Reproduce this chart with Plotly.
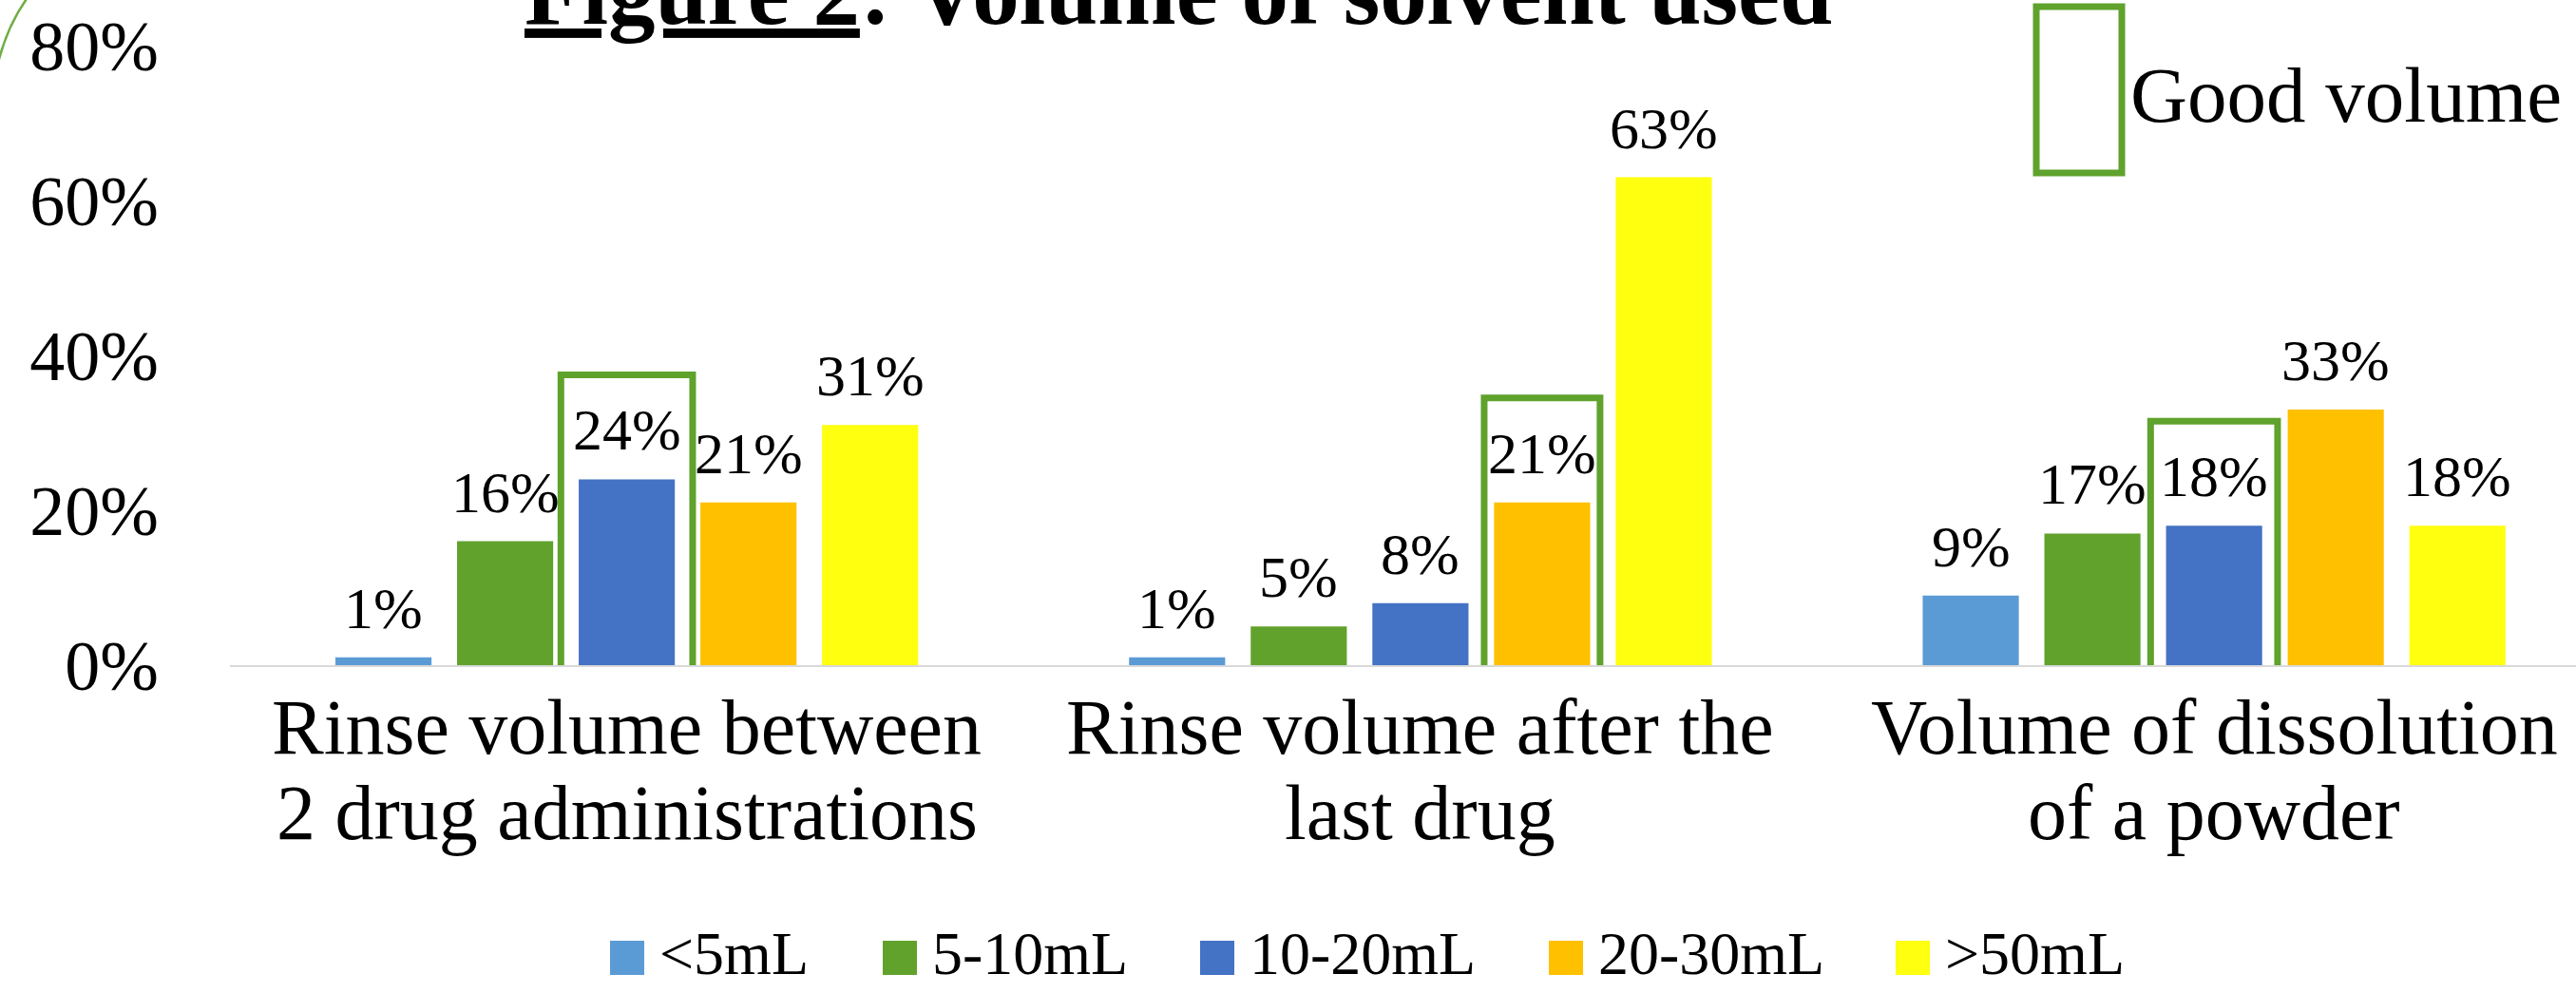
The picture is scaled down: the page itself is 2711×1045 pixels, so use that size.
import plotly.graph_objects as go

# data
categories = ["Rinse volume between<br>2 drug administrations",
              "Rinse volume after the<br>last drug",
              "Volume of dissolution<br>of a powder"]
series_names = ["<5mL", "5-10mL", "10-20mL", "20-30mL", ">50mL"]
lt5 = [0.01, 0.01, 0.09]
v5_10 = [0.16, 0.05, 0.17]
v10_20 = [0.24, 0.08, 0.18]
v20_30 = [0.21, 0.21, 0.33]
gt50 = [0.31, 0.63, 0.18]
y_ticks = [0, 0.2, 0.4, 0.6, 0.8]
# (category index, series index) of the "good volume" bars
good_volume = [(0, 2), (1, 3), (2, 2)]

series_values = [lt5, v5_10, v10_20, v20_30, gt50]
colors = ["#5B9BD5", "#61A22D", "#4472C4", "#FFC000", "#FFFF10"]
GREEN = "#5FA22C"
FONT = "Liberation Serif"

W, H = 2711, 1045
L, R, T, B = 242, 0, 48, 345
PW, PH = W - L - R, H - T - B
BARGAP = 0.2335
X_RANGE = [-0.5, 2.456]
# the hand-drawn boxes are not all the same width
BOX_HALF = [0.083, 0.073, 0.08]


def px_x(px):
    return (px - L) / PW


def px_y(py):
    return (H - B - py) / PH


fig = go.Figure()
for name, vals, col in zip(series_names, series_values, colors):
    fig.add_trace(go.Bar(
        x=list(range(len(categories))),
        y=vals,
        name=name,
        marker={"color": col, "line": {"width": 0}},
        showlegend=False,
    ))

n = len(series_names)
slot = (1 - BARGAP) / n
cat_px = PW / (X_RANGE[1] - X_RANGE[0])

# value labels above the bars (annotations so the gap can match the original)
for si, vals in enumerate(series_values):
    for ci, v in enumerate(vals):
        fig.add_annotation(xref="x", yref="y", x=ci, y=v,
                           xshift=(si - (n - 1) / 2) * slot * cat_px, yshift=16,
                           xanchor="center", yanchor="bottom", showarrow=False,
                           text=f"{v:.0%}",
                           font={"family": FONT, "size": 62, "color": "#000000"})

# green boxes around the good volume bars
for (ci, si), hw in zip(good_volume, BOX_HALF):
    xc = ci + (si - (n - 1) / 2) * slot
    fig.add_shape(type="rect", xref="x", yref="y",
                  x0=xc - hw, x1=xc + hw,
                  y0=-0.029, y1=series_values[si][ci] + 0.135,
                  line={"color": GREEN, "width": 7})

# category names, one annotation per line for tighter line spacing
for i, cat in enumerate(categories):
    for k, line in enumerate(cat.split("<br>")):
        fig.add_annotation(xref="x", yref="paper", x=i, y=px_y(765 + 90 * k),
                           xanchor="center", yanchor="middle", showarrow=False,
                           text=line,
                           font={"family": FONT, "size": 82, "color": "#000000"})

# "Good volume" key, top right
fig.add_shape(type="rect", xref="paper", yref="paper",
              x0=px_x(2143), x1=px_x(2233), y0=px_y(182), y1=px_y(7),
              line={"color": GREEN, "width": 7})
fig.add_annotation(xref="paper", yref="paper", x=px_x(2240), y=px_y(100),
                   xanchor="left", yanchor="middle", showarrow=False,
                   text="Good volume",
                   font={"family": FONT, "size": 83, "color": "#000000"})

# title, cut off at the top as in the slide
fig.add_annotation(xref="paper", yref="paper", x=px_x(550), y=px_y(48),
                   xanchor="left", yanchor="bottom", showarrow=False,
                   text="<b><u>Figure 2</u>: Volume of solvent used</b>",
                   font={"family": FONT, "size": 99, "color": "#000000"})

# decorative arc in the corner
p0 = (px_x(-2), px_y(66))
p1 = (px_x(8), px_y(26))
p2 = (px_x(30), px_y(-4))
fig.add_shape(type="path", xref="paper", yref="paper",
              path=f"M {p0[0]},{p0[1]} Q {p1[0]},{p1[1]} {p2[0]},{p2[1]}",
              line={"color": "#70AD47", "width": 2.5})

# legend drawn by hand so the swatches can be large
legend_x = [642, 929, 1263, 1630, 1995]
for lx, name, col in zip(legend_x, series_names, colors):
    fig.add_shape(type="rect", xref="paper", yref="paper",
                  x0=px_x(lx), x1=px_x(lx + 36),
                  y0=px_y(1026), y1=px_y(990),
                  fillcolor=col, line={"width": 0})
    fig.add_annotation(xref="paper", yref="paper", x=px_x(lx + 50), y=px_y(1003),
                       xanchor="left", yanchor="middle", showarrow=False,
                       text=name.replace("<", "&lt;").replace(">", "&gt;"),
                       font={"family": FONT, "size": 64, "color": "#000000"})

fig.update_layout(
    width=W, height=H,
    autosize=False,
    margin={"l": L, "r": R, "t": T, "b": B, "pad": 0},
    paper_bgcolor="white",
    plot_bgcolor="white",
    barmode="group",
    bargap=BARGAP,
    bargroupgap=0.21,
    showlegend=False,
    xaxis={
        "range": X_RANGE,
        "tickvals": list(range(len(categories))),
        "showticklabels": False,
        "showline": True, "linecolor": "#D9D9D9", "linewidth": 2,
        "showgrid": False, "zeroline": False, "ticks": "",
    },
    yaxis={
        "range": [0, 0.8],
        "tickvals": y_ticks,
        "tickformat": ".0%",
        "tickfont": {"family": FONT, "size": 74, "color": "#000000"},
        "showgrid": False, "zeroline": False, "showline": False,
        "ticks": "", "ticklabelstandoff": 74,
    },
)

fig.write_html("out.html", config={"displayModeBar": False},
               post_script="document.body.style.margin = '0px';")
